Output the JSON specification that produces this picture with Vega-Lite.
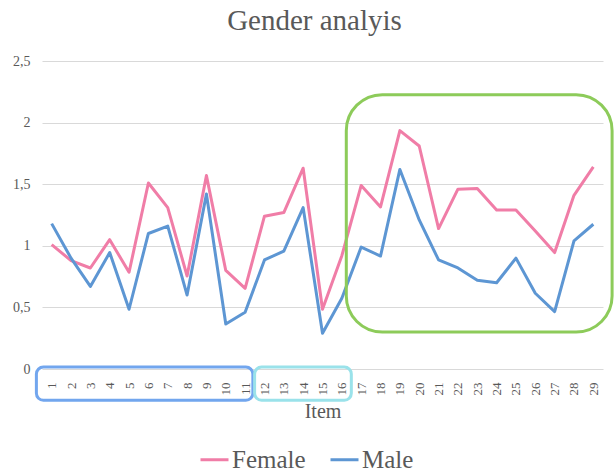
{
  "$schema": "https://vega.github.io/schema/vega-lite/v6.json",
  "autosize": {"type": "none"},
  "padding": {"left": 42, "top": 61, "right": 11, "bottom": 106},
  "width": 561,
  "height": 308,
  "background": "white",
  "title": {
    "text": "Gender analyis",
    "font": "Liberation Serif",
    "fontSize": 29,
    "fontWeight": "normal",
    "color": "#595959",
    "anchor": "middle",
    "offset": 18,
    "dx": -8
  },
  "config": {
    "view": {"stroke": null},
    "font": "Liberation Serif",
    "axis": {"labelOverlap": false, "labelSeparation": 0}
  },
  "datasets": {
    "series": [
      {"item": 1, "gender": "Female", "value": 1.01},
      {"item": 2, "gender": "Female", "value": 0.88},
      {"item": 3, "gender": "Female", "value": 0.82},
      {"item": 4, "gender": "Female", "value": 1.05},
      {"item": 5, "gender": "Female", "value": 0.785},
      {"item": 6, "gender": "Female", "value": 1.51},
      {"item": 7, "gender": "Female", "value": 1.31},
      {"item": 8, "gender": "Female", "value": 0.755},
      {"item": 9, "gender": "Female", "value": 1.57},
      {"item": 10, "gender": "Female", "value": 0.80},
      {"item": 11, "gender": "Female", "value": 0.655},
      {"item": 12, "gender": "Female", "value": 1.24},
      {"item": 13, "gender": "Female", "value": 1.27},
      {"item": 14, "gender": "Female", "value": 1.63},
      {"item": 15, "gender": "Female", "value": 0.485},
      {"item": 16, "gender": "Female", "value": 0.92},
      {"item": 17, "gender": "Female", "value": 1.49},
      {"item": 18, "gender": "Female", "value": 1.315},
      {"item": 19, "gender": "Female", "value": 1.935},
      {"item": 20, "gender": "Female", "value": 1.81},
      {"item": 21, "gender": "Female", "value": 1.14},
      {"item": 22, "gender": "Female", "value": 1.46},
      {"item": 23, "gender": "Female", "value": 1.465},
      {"item": 24, "gender": "Female", "value": 1.29},
      {"item": 25, "gender": "Female", "value": 1.29},
      {"item": 26, "gender": "Female", "value": 1.12},
      {"item": 27, "gender": "Female", "value": 0.945},
      {"item": 28, "gender": "Female", "value": 1.41},
      {"item": 29, "gender": "Female", "value": 1.64},
      {"item": 1, "gender": "Male", "value": 1.18},
      {"item": 2, "gender": "Male", "value": 0.90},
      {"item": 3, "gender": "Male", "value": 0.67},
      {"item": 4, "gender": "Male", "value": 0.945},
      {"item": 5, "gender": "Male", "value": 0.485},
      {"item": 6, "gender": "Male", "value": 1.10},
      {"item": 7, "gender": "Male", "value": 1.16},
      {"item": 8, "gender": "Male", "value": 0.60},
      {"item": 9, "gender": "Male", "value": 1.42},
      {"item": 10, "gender": "Male", "value": 0.365},
      {"item": 11, "gender": "Male", "value": 0.46},
      {"item": 12, "gender": "Male", "value": 0.885},
      {"item": 13, "gender": "Male", "value": 0.957},
      {"item": 14, "gender": "Male", "value": 1.31},
      {"item": 15, "gender": "Male", "value": 0.29},
      {"item": 16, "gender": "Male", "value": 0.575},
      {"item": 17, "gender": "Male", "value": 0.99},
      {"item": 18, "gender": "Male", "value": 0.917},
      {"item": 19, "gender": "Male", "value": 1.62},
      {"item": 20, "gender": "Male", "value": 1.21},
      {"item": 21, "gender": "Male", "value": 0.885},
      {"item": 22, "gender": "Male", "value": 0.82},
      {"item": 23, "gender": "Male", "value": 0.72},
      {"item": 24, "gender": "Male", "value": 0.70},
      {"item": 25, "gender": "Male", "value": 0.90},
      {"item": 26, "gender": "Male", "value": 0.615},
      {"item": 27, "gender": "Male", "value": 0.466},
      {"item": 28, "gender": "Male", "value": 1.04},
      {"item": 29, "gender": "Male", "value": 1.175}
    ],
    "boxes": [
      {"box": "items 1-11", "from": 0.21, "to": 11.4, "low": -0.254, "high": 0.016},
      {"box": "items 12-16", "from": 11.49, "to": 16.49, "low": -0.254, "high": 0.016},
      {"box": "items 17-29", "from": 16.23, "to": 29.97, "low": 0.30, "high": 2.227}
    ]
  },
  "layer": [
    {
      "data": {"name": "series"},
      "mark": {"type": "line", "strokeWidth": 3, "strokeJoin": "round"},
      "encoding": {
        "x": {
          "field": "item",
          "type": "quantitative",
          "scale": {"domain": [0.5, 29.5], "nice": false, "zero": false},
          "axis": {
            "title": "Item",
            "titleFont": "Liberation Serif",
            "titleFontSize": 20,
            "titleFontWeight": "normal",
            "titleColor": "#595959",
            "titlePadding": 6,
            "values": [1,2,3,4,5,6,7,8,9,10,11,12,13,14,15,16,17,18,19,20,21,22,23,24,25,26,27,28,29],
            "tickCount": 40,
            "labelAngle": -90,
            "labelFont": "Liberation Serif",
            "labelFontSize": 13,
            "labelColor": "#595959",
            "labelPadding": 13,
            "labelOverlap": false,
            "labelSeparation": 0,
            "labelBound": false,
            "labelFlush": false,
            "domain": false,
            "ticks": false,
            "tickSize": 0,
            "grid": false
          }
        },
        "y": {
          "field": "value",
          "type": "quantitative",
          "scale": {"domain": [0, 2.5], "nice": false},
          "axis": {
            "title": null,
            "values": [0, 0.5, 1, 1.5, 2, 2.5],
            "labelExpr": "replace(toString(datum.value), '.', ',')",
            "labelFont": "Liberation Serif",
            "labelFontSize": 14,
            "labelColor": "#595959",
            "labelPadding": 12,
            "domain": false,
            "ticks": false,
            "tickSize": 0,
            "grid": true,
            "gridColor": "#d9d9d9",
            "gridWidth": 1.2
          }
        },
        "color": {
          "field": "gender",
          "type": "nominal",
          "scale": {"domain": ["Female", "Male"], "range": ["#F07DA7", "#5D96D3"]},
          "legend": {
            "title": null,
            "orient": "none",
            "direction": "horizontal",
            "legendX": 157,
            "legendY": 383,
            "symbolType": "stroke",
            "symbolSize": 784,
            "symbolStrokeWidth": 3,
            "labelFont": "Liberation Serif",
            "labelFontSize": 25,
            "labelColor": "#595959",
            "labelOffset": 2,
            "columnPadding": 18,
            "labelLimit": 200
          }
        }
      }
    },
    {
      "data": {"name": "boxes"},
      "transform": [{"filter": "datum.box === 'items 1-11'"}],
      "mark": {"type": "rect", "fill": null, "fillOpacity": 0, "stroke": "#72A6EE", "strokeWidth": 3, "cornerRadius": 7},
      "encoding": {
        "x": {"field": "from", "type": "quantitative"},
        "x2": {"field": "to"},
        "y": {"field": "low", "type": "quantitative"},
        "y2": {"field": "high"}
      }
    },
    {
      "data": {"name": "boxes"},
      "transform": [{"filter": "datum.box === 'items 12-16'"}],
      "mark": {"type": "rect", "fill": null, "fillOpacity": 0, "stroke": "#9AE2EA", "strokeWidth": 3, "cornerRadius": 7},
      "encoding": {
        "x": {"field": "from", "type": "quantitative"},
        "x2": {"field": "to"},
        "y": {"field": "low", "type": "quantitative"},
        "y2": {"field": "high"}
      }
    },
    {
      "data": {"name": "boxes"},
      "transform": [{"filter": "datum.box === 'items 17-29'"}],
      "mark": {"type": "rect", "fill": null, "fillOpacity": 0, "stroke": "#8DCB5A", "strokeWidth": 3, "cornerRadius": 36},
      "encoding": {
        "x": {"field": "from", "type": "quantitative"},
        "x2": {"field": "to"},
        "y": {"field": "low", "type": "quantitative"},
        "y2": {"field": "high"}
      }
    }
  ]
}
